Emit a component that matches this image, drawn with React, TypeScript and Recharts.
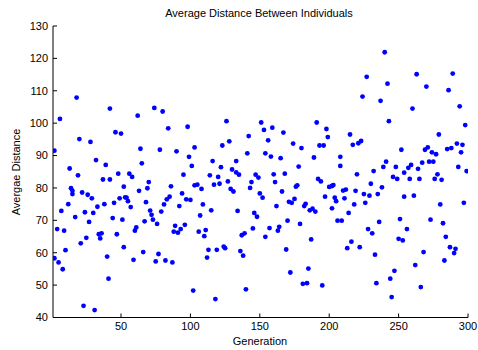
import { ScatterChart, Scatter, XAxis, YAxis } from "recharts";

const generations = [
  2, 2, 4, 5, 6, 7, 8, 9, 10, 12, 13, 14, 15, 15, 17, 18, 19, 20, 21, 22, 23, 24, 25, 26, 27, 28, 29, 30,
  31, 32, 33, 34, 35, 36, 37, 38, 39, 40, 41, 42, 42, 44, 45, 46, 47, 48, 49, 50, 51, 52, 52, 53,
  54, 55, 56, 57, 58, 59, 60, 61, 62, 63, 64, 65, 66, 67, 68, 69, 70, 71, 72, 73, 74, 75, 76, 77, 78, 79,
  80, 81, 82, 83, 84, 85, 86, 87, 88, 89, 90, 91, 92, 93, 94, 95, 96, 97, 98, 99, 100, 101, 102, 103, 103,
  105, 107, 106, 108, 109, 110, 111, 112, 113, 114, 115, 116, 117, 118, 119, 120, 121, 122, 123, 124, 125,
  126, 127, 128, 129, 130, 131, 133, 133, 134, 135, 136, 137, 138, 139, 140, 141, 142, 143, 144, 145, 146,
  147, 148, 149, 150, 151, 152, 153, 154, 154,
  156, 157, 158, 159, 160, 161, 162, 163, 164, 165, 166, 167, 168, 169, 170, 171, 172, 173, 174, 175, 176,
  177, 178, 179, 180, 181, 182, 183, 184, 185, 186, 187, 188, 189, 190, 191, 192, 193, 194, 195, 196, 197,
  198, 199, 200, 202, 202, 203, 204,
  205, 206, 208, 208, 209, 210, 211, 212, 213, 214, 215, 216, 217, 218, 219, 220, 221, 222, 223, 224, 225,
  226, 227, 228, 229, 230, 231, 232, 233, 234, 235, 236, 237, 238, 239, 240, 241, 242, 243, 244, 245, 246,
  247, 248, 249, 250, 251, 252, 253, 254, 254,
  256, 257, 258, 259, 260, 261, 262, 263, 264, 265, 266, 267, 268, 269, 270, 271, 272, 273, 274, 275, 276,
  277, 278, 279, 280, 281, 282, 283, 284, 285, 286, 287, 288, 289, 290, 291, 292, 293, 294, 295, 296, 297,
  298, 299,
];

const distances = [
  58.3, 91.5, 67.3, 57.0, 101.3, 72.9, 54.9, 66.8, 60.8, 75.0, 86.0, 79.9, 78.1, 79.1, 71.0, 107.9, 83.9,
  95.1, 62.9, 78.6, 43.6, 72.5, 64.6, 77.9, 69.5, 94.2, 76.8, 72.3, 42.3, 88.6, 74.2, 65.7, 64.4, 66.0,
  82.6, 75.0, 87.1, 58.8, 52.0, 82.6, 104.5, 70.7, 75.4, 97.2, 65.7, 84.4, 76.8, 96.8, 70.2, 80.4, 61.7, 77.1,
  77.0, 75.9, 84.4, 74.1, 83.4, 57.8, 66.8, 67.8, 102.3, 79.1, 92.1, 87.6, 60.2, 69.7, 75.6, 79.9, 81.8,
  73.0, 71.7, 70.2, 104.7, 57.3, 68.9, 59.6, 91.8, 72.7, 103.6, 74.9, 57.6, 76.5, 98.4, 77.3, 80.5, 57.0,
  66.5, 68.3, 91.3, 66.2, 74.4, 67.3, 78.3, 84.1, 68.6, 76.5, 98.9, 89.6, 76.3, 86.8, 48.3, 92.5, 80.8,
  81.0, 71.5, 66.5, 79.7, 74.9, 65.1, 67.0, 58.5, 60.9, 83.9, 73.1, 88.3, 81.0, 45.7, 60.9, 83.4, 81.3,
  86.4, 93.1, 61.9, 61.4, 100.6, 82.0, 94.4, 79.7, 85.7, 78.9, 88.3, 84.8, 72.9, 84.1, 60.5, 65.4, 59.1,
  66.0, 48.7, 90.7, 96.0, 80.0, 81.8, 67.5, 72.3, 84.1, 71.1, 83.2, 78.3, 100.2, 77.0, 97.9, 90.7, 64.9,
  94.7, 67.6, 89.7, 98.6, 84.2, 81.8, 74.4, 66.8, 68.0, 89.2, 78.9, 97.1, 84.4, 61.0, 69.9, 75.7, 53.9,
  75.4, 93.7, 76.6, 80.4, 80.8, 86.6, 68.9, 92.3, 50.4, 74.4, 75.1, 50.6, 55.1, 73.1, 64.1, 73.6, 89.4,
  72.7, 100.2, 82.8, 93.1, 82.0, 49.9, 93.1, 77.3, 98.2, 95.7, 80.3, 80.6, 73.7, 80.9, 77.0,
  75.9, 69.9, 89.6, 86.8, 69.9, 79.2, 76.8, 79.5, 61.4, 72.3, 96.5, 63.4, 93.3, 74.9, 79.1, 84.2, 93.8,
  61.7, 94.5, 108.2, 78.1, 75.4, 114.3, 67.3, 77.6, 81.3, 66.0, 85.2, 59.4, 50.6, 78.1, 69.5, 106.9, 80.2,
  86.5, 121.9, 88.1, 112.2, 100.6, 52.0, 46.3, 83.4, 54.4, 86.5, 82.8, 64.3, 70.4, 91.8, 63.8, 84.7, 77.3,
  67.3, 86.2, 82.8, 87.1, 104.5, 77.6, 56.2, 115.1, 85.9, 82.8, 49.4, 87.8, 60.2, 91.8, 111.3, 92.5, 88.1,
  70.2, 91.0, 88.1, 82.8, 90.4, 84.2, 96.5, 74.9, 82.5, 69.1, 57.6, 64.9, 92.0, 110.2, 61.7, 92.3, 115.3,
  59.9, 61.2, 93.7, 86.5, 105.2, 91.0, 93.3, 75.4, 99.4, 85.2,
];

const xTicks = [50, 100, 150, 200, 250, 300];
const yTicks = [40, 50, 60, 70, 80, 90, 100, 110, 120, 130];

const points = generations.map((g, i) => ({ generation: g, distance: distances[i] }));

const font = "'Liberation Sans', Arial, sans-serif";
const tickStyle = { fontSize: 11, fill: "#000", fontFamily: font };

const BlueDot = (props: any) => (
  <circle cx={props.cx} cy={props.cy} r={2.4} fill="#0000ff" />
);

export default function App() {
  return (
    <div
      style={{
        position: "absolute",
        left: 0,
        top: 0,
        width: 478,
        height: 350,
        background: "#fff",
        fontFamily: font,
      }}
    >
      <div
        style={{
          position: "absolute",
          left: 0,
          width: 518,
          top: 7,
          textAlign: "center",
          fontSize: 11,
          color: "#000",
        }}
      >
        Average Distance Between Individuals
      </div>
      <ScatterChart
        width={478}
        height={350}
        margin={{ top: 26, right: 10, bottom: 2, left: 0 }}
      >
        <XAxis
          type="number"
          dataKey="generation"
          domain={[1, 300]}
          ticks={xTicks}
          height={30.5}
          tickSize={-4}
          tickMargin={9}
          tick={tickStyle}
          stroke="#000"
          axisLine={{ stroke: "#000" }}
          tickLine={{ stroke: "#000" }}
          allowDataOverflow
        />
        <YAxis
          type="number"
          dataKey="distance"
          domain={[40, 130]}
          ticks={yTicks}
          width={53}
          tickSize={-4}
          tickMargin={9}
          tick={tickStyle}
          stroke="#000"
          axisLine={{ stroke: "#000" }}
          tickLine={{ stroke: "#000" }}
          allowDataOverflow
        />
        <Scatter data={points} shape={BlueDot} isAnimationActive={false} />
      </ScatterChart>
      <div
        style={{
          position: "absolute",
          left: 0,
          width: 520,
          top: 335,
          textAlign: "center",
          fontSize: 11,
          color: "#000",
        }}
      >
        Generation
      </div>
      <div
        style={{
          position: "absolute",
          left: 16,
          top: 172,
          transform: "translate(-50%, -50%) rotate(-90deg)",
          whiteSpace: "nowrap",
          fontSize: 11,
          color: "#000",
        }}
      >
        Avergae Distance
      </div>
    </div>
  );
}
